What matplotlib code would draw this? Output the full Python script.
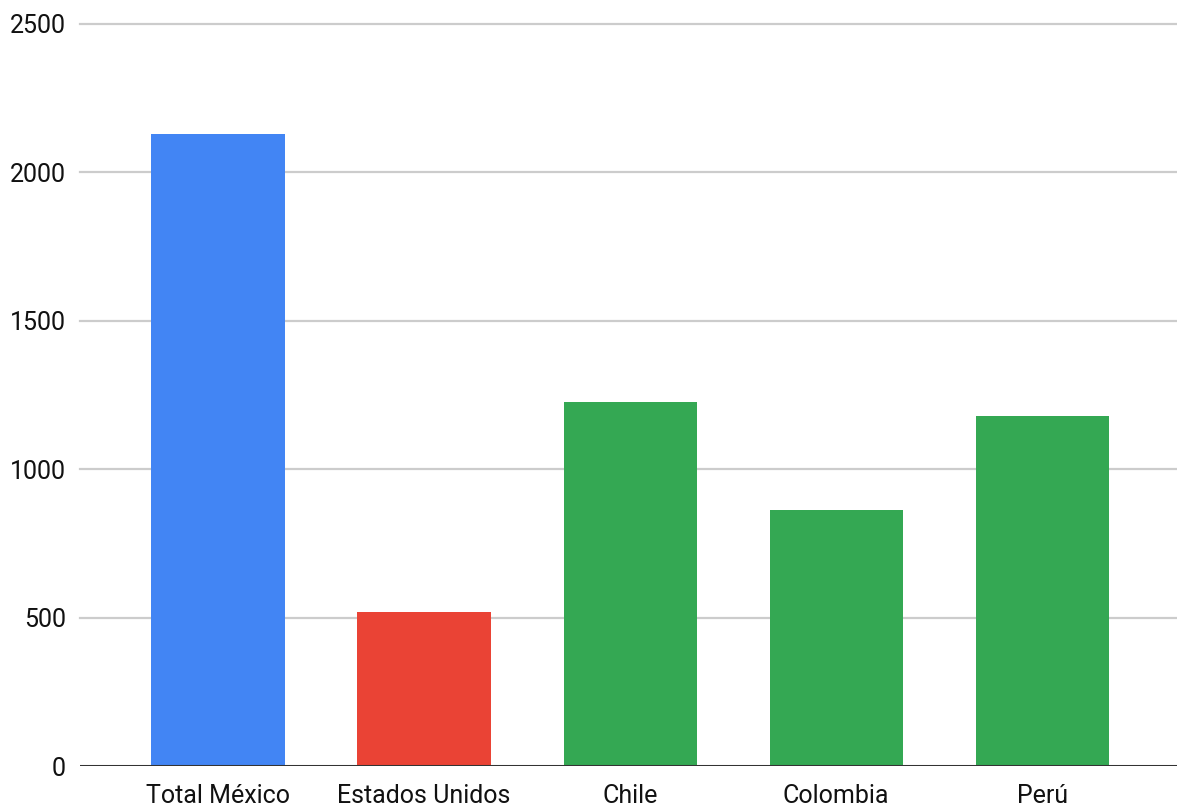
import matplotlib
matplotlib.use("Agg")
import matplotlib.pyplot as plt

categories = ["Total México", "Estados Unidos", "Chile", "Colombia", "Perú"]
values = [2129, 519, 1226, 862, 1179]
colors = ["#4285F4", "#EA4335", "#34A853", "#34A853", "#34A853"]
yticks = [0, 500, 1000, 1500, 2000, 2500]

plt.rcParams['font.family'] = ['Roboto', 'DejaVu Sans']

fig = plt.figure(figsize=(11.77, 8.08), dpi=100)
ax = fig.add_axes([80/1177, 1-766/808, 1-80/1177, (766-24)/808])

x = range(len(categories))
ax.bar(x, values, width=0.646, color=colors, zorder=3)

ax.set_xlim(-0.67, 4.655)
ax.set_ylim(0, 2500)
ax.set_yticks(yticks)
ax.set_yticklabels([str(t) for t in yticks], fontsize=18, color="#111111")
ax.set_xticks(list(x))
ax.set_xticklabels(categories, fontsize=18, color="#111111")

for t in yticks[1:]:
    ax.axhline(t, color="#cccccc", lw=1.6, zorder=1, clip_on=False)
ax.axhline(0, color="#333333", lw=2.2, zorder=4)

for s in ax.spines.values():
    s.set_visible(False)
ax.tick_params(axis='both', length=0)
ax.tick_params(axis='y', pad=10)
ax.tick_params(axis='x', pad=13)

fig.savefig("out.png", dpi=100, facecolor="white")
